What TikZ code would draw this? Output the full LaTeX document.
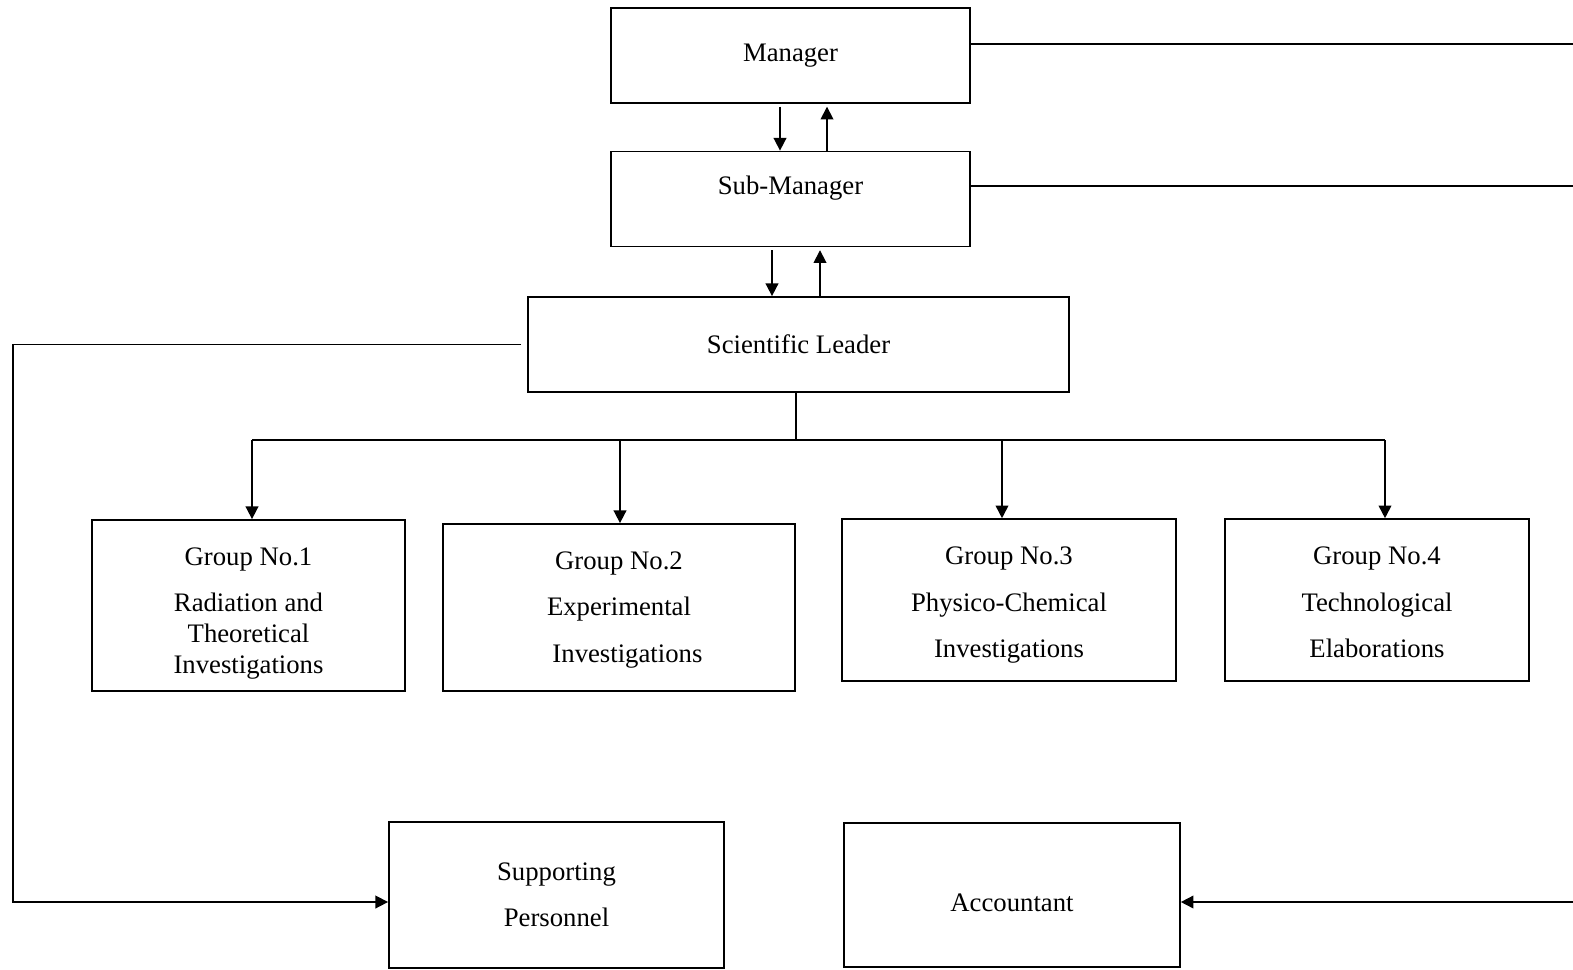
\documentclass[tikz,border=0pt]{standalone}
\usepackage{fontspec}
\setmainfont{Liberation Serif}
\usetikzlibrary{arrows.meta}

\begin{document}
\begin{tikzpicture}[
  x=0.025cm, y=-0.025cm,
  >={Triangle[length=9pt,width=9pt]},
  unit/.style={draw, line width=1.1pt, align=center, inner sep=0pt,
              font=\fontsize{19}{22}\selectfont},
  arr/.style={->, line width=1.2pt},
  conn/.style={line width=1.2pt},
]
\useasboundingbox (0,0) rectangle (1573,969);

\node[unit, minimum width=8.98cm, minimum height=2.38cm] (mgr) at (790.5,55.5) {Manager};
\node[unit, minimum width=8.98cm, minimum height=2.38cm, text depth=20pt] (sub) at (790.5,199) {Sub-Manager};
\node[unit, minimum width=13.53cm, minimum height=2.38cm] (lead) at (798.5,344.5) {Scientific Leader};

\node[unit, minimum width=7.83cm, minimum height=4.28cm] (grp1) at (248.5,605.5)
  {\rule{0pt}{24pt}Group No.1\\[11pt]Radiation and\\Theoretical\\Investigations};
\node[unit, minimum width=8.8cm, minimum height=4.18cm] (grp2) at (619,607.5)
  {\rule{0pt}{16pt}Group No.2\\[11pt]Experimental\\[11pt]\hspace*{12pt}Investigations};
\node[unit, minimum width=8.35cm, minimum height=4.05cm] (grp3) at (1009,600)
  {\rule{0pt}{20pt}Group No.3\\[11pt]Physico-Chemical\\[11pt]Investigations};
\node[unit, minimum width=7.6cm, minimum height=4.05cm] (grp4) at (1377,600)
  {\rule{0pt}{16pt}Group No.4\\[11pt]Technological\\[11pt]Elaborations};

\node[unit, minimum width=8.38cm, minimum height=3.65cm] (supp) at (556.5,895)
  {Supporting\\[11pt]Personnel};
\node[unit, minimum width=8.4cm, minimum height=3.6cm, text height=24pt] (acc) at (1012,895) {Accountant};

\coordinate (edgetop) at (1573,44);
\coordinate (edgemid) at (1573,186);
\coordinate (edgelow) at (1573,902);
\coordinate (bus) at (796,440);

% manager <-> sub-manager <-> leader
\draw[arr, shorten <=2pt] (mgr.south -| 780,0) -- (sub.north -| 780,0);
\draw[arr, shorten >=2pt] (sub.north -| 827,0) -- (mgr.south -| 827,0);
\draw[arr, shorten <=2pt] (sub.south -| 772,0) -- (lead.north -| 772,0);
\draw[arr, shorten >=2pt] (lead.north -| 820,0) -- (sub.south -| 820,0);

% lines to the right edge
\draw[conn] (mgr.east |- edgetop) -- (edgetop);
\draw[conn] (sub.east |- edgemid) -- (edgemid);
\draw[arr] (edgelow) -- (acc.east |- edgelow);

% leader to supporting personnel
\draw[arr] ([xshift=-6*0.025cm]lead.west) -- (13,0 |- lead.west) |- (supp.west |- edgelow);

% leader to the groups
\draw[conn] (lead.south -| bus) -- (bus);
\draw[conn] (252,0 |- bus) -- (1385,0 |- bus);
\draw[arr] (252,0 |- bus) -- (grp1.north -| 252,0);
\draw[arr] (620,0 |- bus) -- (grp2.north -| 620,0);
\draw[arr] (1002,0 |- bus) -- (grp3.north -| 1002,0);
\draw[arr] (1385,0 |- bus) -- (grp4.north -| 1385,0);

\end{tikzpicture}
\end{document}
